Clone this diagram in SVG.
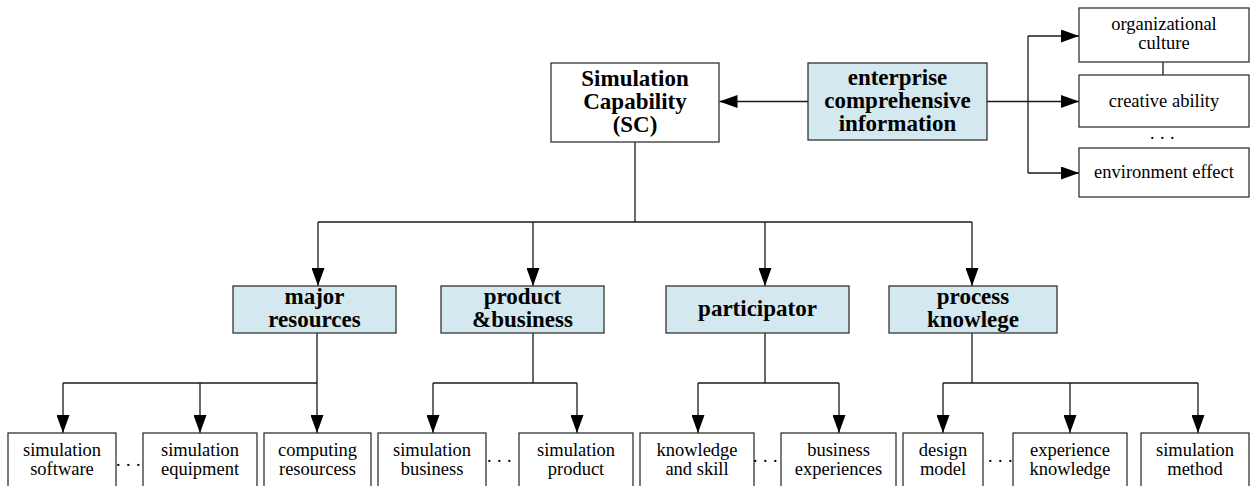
<svg xmlns="http://www.w3.org/2000/svg" width="1252" height="486" viewBox="0 0 1252 486">
  <style>
    .box { fill: #ffffff; stroke: #333333; stroke-width: 1.3; }
    .hl { fill: #d3e9ef; stroke: #333333; stroke-width: 1.3; }
    .line { fill: none; stroke: #1a1a1a; stroke-width: 1.3; }
    .arrow { fill: none; stroke: #1a1a1a; stroke-width: 1.3; marker-end: url(#head); }
    text { font-family: 'Liberation Serif', 'DejaVu Serif', serif; fill: #000; }
    .b { font-weight: bold; font-size: 23px; text-anchor: middle; }
    .r { font-size: 18.5px; text-anchor: middle; }
    .dots { font-size: 18px; letter-spacing: 5.5px; }
  </style>
  <defs>
    <marker id="head" viewBox="0 0 18 13" refX="18" refY="6.5" markerWidth="18" markerHeight="13" markerUnits="userSpaceOnUse" orient="auto">
      <path d="M0,0 L18,6.5 L0,13 Z" fill="#000"/>
    </marker>
  </defs>

  <!-- connectors -->
  <g id="connectors">
    <line class="arrow" x1="808" y1="101.5" x2="719.5" y2="101.5"/>
    <polyline class="line" points="987,101.5 1028,101.5"/>
    <line class="line" x1="1028" y1="36" x2="1028" y2="173"/>
    <line class="arrow" x1="1028" y1="36" x2="1079" y2="36"/>
    <line class="arrow" x1="1028" y1="101.5" x2="1079" y2="101.5"/>
    <line class="arrow" x1="1028" y1="173" x2="1079" y2="173"/>
    <line class="line" x1="1163" y1="62" x2="1163" y2="75"/>

    <line class="line" x1="635" y1="142" x2="635" y2="222"/>
    <line class="line" x1="318" y1="222" x2="972" y2="222"/>
    <line class="arrow" x1="318" y1="222" x2="318" y2="286"/>
    <line class="arrow" x1="533" y1="222" x2="533" y2="286"/>
    <line class="arrow" x1="765" y1="222" x2="765" y2="286"/>
    <line class="arrow" x1="972" y1="222" x2="972" y2="286"/>

    <line class="line" x1="317" y1="333" x2="317" y2="383"/>
    <line class="line" x1="63" y1="383" x2="317" y2="383"/>
    <line class="arrow" x1="63" y1="383" x2="63" y2="433"/>
    <line class="arrow" x1="200" y1="383" x2="200" y2="433"/>
    <line class="arrow" x1="317" y1="383" x2="317" y2="433"/>

    <line class="line" x1="533" y1="333" x2="533" y2="383"/>
    <line class="line" x1="433" y1="383" x2="577" y2="383"/>
    <line class="arrow" x1="433" y1="383" x2="433" y2="433"/>
    <line class="arrow" x1="577" y1="383" x2="577" y2="433"/>

    <line class="line" x1="765" y1="333" x2="765" y2="383"/>
    <line class="line" x1="698" y1="383" x2="839" y2="383"/>
    <line class="arrow" x1="698" y1="383" x2="698" y2="433"/>
    <line class="arrow" x1="839" y1="383" x2="839" y2="433"/>

    <line class="line" x1="972" y1="333" x2="972" y2="383"/>
    <line class="line" x1="943" y1="383" x2="1198" y2="383"/>
    <line class="arrow" x1="943" y1="383" x2="943" y2="433"/>
    <line class="arrow" x1="1070" y1="383" x2="1070" y2="433"/>
    <line class="arrow" x1="1198" y1="383" x2="1198" y2="433"/>
  </g>

  <!-- top level -->
  <g id="sc">
    <rect class="box" x="551" y="63" width="168" height="79"/>
    <text class="b" x="635" y="86">Simulation</text>
    <text class="b" x="635" y="109">Capability</text>
    <text class="b" x="635" y="132">(SC)</text>
  </g>
  <g id="enterprise">
    <rect class="hl" x="808" y="63" width="179" height="77"/>
    <text class="b" x="897.5" y="85">enterprise</text>
    <text class="b" x="897.5" y="108">comprehensive</text>
    <text class="b" x="897.5" y="131">information</text>
  </g>

  <!-- enterprise factors -->
  <g id="culture">
    <rect class="box" x="1079" y="8" width="170" height="54"/>
    <text class="r" x="1164" y="30">organizational</text>
    <text class="r" x="1164" y="49">culture</text>
  </g>
  <g id="creative">
    <rect class="box" x="1079" y="75" width="170" height="52"/>
    <text class="r" x="1164" y="107">creative ability</text>
  </g>
  <text class="dots" x="1150" y="139">...</text>
  <g id="environment">
    <rect class="box" x="1079" y="148" width="170" height="49"/>
    <text class="r" x="1164" y="178">environment effect</text>
  </g>

  <!-- second level -->
  <g id="major">
    <rect class="hl" x="233" y="286" width="163" height="47"/>
    <text class="b" x="314.5" y="304">major</text>
    <text class="b" x="314.5" y="327">resources</text>
  </g>
  <g id="product">
    <rect class="hl" x="441" y="286" width="163" height="47"/>
    <text class="b" x="522.5" y="304">product</text>
    <text class="b" x="522.5" y="327">&amp;business</text>
  </g>
  <g id="participator">
    <rect class="hl" x="666" y="286" width="183" height="47"/>
    <text class="b" x="757.5" y="316">participator</text>
  </g>
  <g id="process">
    <rect class="hl" x="889" y="286" width="168" height="47"/>
    <text class="b" x="973" y="304">process</text>
    <text class="b" x="973" y="327">knowlege</text>
  </g>

  <!-- third level -->
  <g id="sim-software">
    <rect class="box" x="8" y="433" width="108" height="60"/>
    <text class="r" x="62" y="456">simulation</text>
    <text class="r" x="62" y="475">software</text>
  </g>
  <text class="dots" x="116" y="466">...</text>
  <g id="sim-equipment">
    <rect class="box" x="143" y="433" width="114" height="60"/>
    <text class="r" x="200" y="456">simulation</text>
    <text class="r" x="200" y="475">equipment</text>
  </g>
  <g id="computing">
    <rect class="box" x="264" y="433" width="107" height="60"/>
    <text class="r" x="317.5" y="456">computing</text>
    <text class="r" x="317.5" y="475">resourcess</text>
  </g>
  <g id="sim-business">
    <rect class="box" x="378" y="433" width="108" height="60"/>
    <text class="r" x="432" y="456">simulation</text>
    <text class="r" x="432" y="475">business</text>
  </g>
  <text class="dots" x="487" y="462">...</text>
  <g id="sim-product">
    <rect class="box" x="519" y="433" width="114" height="60"/>
    <text class="r" x="576" y="456">simulation</text>
    <text class="r" x="576" y="475">product</text>
  </g>
  <g id="knowledge-skill">
    <rect class="box" x="640" y="433" width="114" height="60"/>
    <text class="r" x="697" y="456">knowledge</text>
    <text class="r" x="697" y="475">and skill</text>
  </g>
  <text class="dots" x="753" y="462">...</text>
  <g id="business-experiences">
    <rect class="box" x="781" y="433" width="115" height="60"/>
    <text class="r" x="838.5" y="456">business</text>
    <text class="r" x="838.5" y="475">experiences</text>
  </g>
  <g id="design-model">
    <rect class="box" x="903" y="433" width="80" height="60"/>
    <text class="r" x="943" y="456">design</text>
    <text class="r" x="943" y="475">model</text>
  </g>
  <text class="dots" x="988" y="462">...</text>
  <g id="experience-knowledge">
    <rect class="box" x="1013" y="433" width="114" height="60"/>
    <text class="r" x="1070" y="456">experience</text>
    <text class="r" x="1070" y="475">knowledge</text>
  </g>
  <g id="sim-method">
    <rect class="box" x="1141" y="433" width="108" height="60"/>
    <text class="r" x="1195" y="456">simulation</text>
    <text class="r" x="1195" y="475">method</text>
  </g>
</svg>
